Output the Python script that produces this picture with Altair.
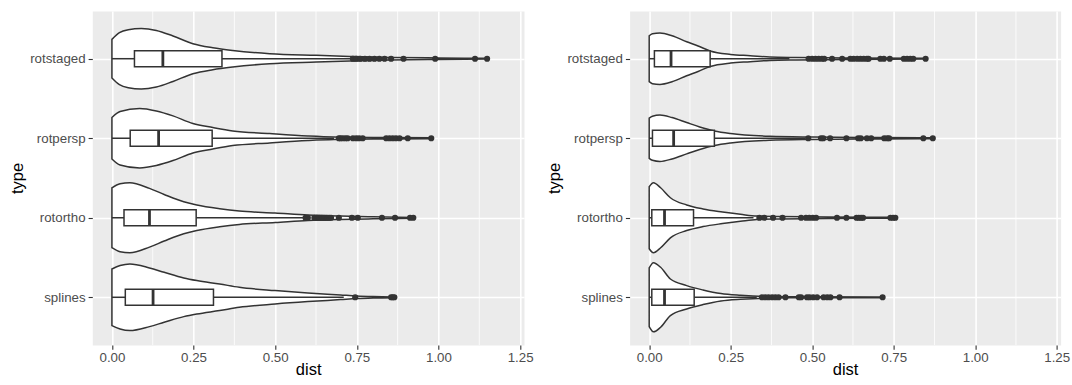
import altair as alt
import pandas as pd

# factor levels, bottom to top
categories = ["splines", "rotortho", "rotpersp", "rotstaged"]
x_ticks = [0.0, 0.25, 0.5, 0.75, 1.0, 1.25]
x_minor = [0.125, 0.375, 0.625, 0.875, 1.125]

# ---------- left panel: violin outlines (dist, half-width in category units)
L_rotstaged_d = [0, 0.023, 0.05, 0.09, 0.136, 0.187, 0.248, 0.309, 0.37, 0.483, 0.626, 0.728, 0.85, 1.0, 1.149]
L_rotstaged_w = [0.243, 0.327, 0.365, 0.381, 0.356, 0.286, 0.189, 0.138, 0.104, 0.063, 0.042, 0.029, 0.016, 0.010, 0.005]
L_rotpersp_d = [0, 0.025, 0.085, 0.136, 0.187, 0.248, 0.309, 0.37, 0.483, 0.6, 0.68, 0.85, 0.978]
L_rotpersp_w = [0.260, 0.336, 0.374, 0.343, 0.281, 0.185, 0.135, 0.092, 0.059, 0.029, 0.016, 0.009, 0.005]
L_rotortho_d = [0, 0.025, 0.055, 0.115, 0.16, 0.22, 0.26, 0.33, 0.39, 0.5, 0.6, 0.7, 0.8, 0.923]
L_rotortho_w = [0.377, 0.428, 0.440, 0.369, 0.293, 0.201, 0.160, 0.113, 0.084, 0.059, 0.034, 0.021, 0.013, 0.005]
L_splines_d = [0, 0.025, 0.055, 0.115, 0.16, 0.22, 0.26, 0.33, 0.39, 0.5, 0.6, 0.7, 0.75, 0.8, 0.865]
L_splines_w = [0.356, 0.399, 0.419, 0.369, 0.314, 0.243, 0.210, 0.167, 0.126, 0.084, 0.054, 0.029, 0.016, 0.009, 0.005]

# ---------- right panel: violin outlines
R_rotstaged_d = [0, 0.01, 0.033, 0.07, 0.115, 0.15, 0.187, 0.25, 0.31, 0.37, 0.45, 0.6, 0.848]
R_rotstaged_w = [0.289, 0.314, 0.323, 0.289, 0.214, 0.160, 0.097, 0.054, 0.038, 0.021, 0.015, 0.010, 0.005]
R_rotpersp_d = [0, 0.01, 0.033, 0.07, 0.115, 0.155, 0.2, 0.25, 0.37, 0.5, 0.7, 0.87]
R_rotpersp_w = [0.252, 0.277, 0.292, 0.260, 0.197, 0.142, 0.092, 0.059, 0.025, 0.015, 0.009, 0.005]
R_rotortho_d = [0, 0.013, 0.035, 0.065, 0.115, 0.165, 0.225, 0.28, 0.33, 0.4, 0.55, 0.755]
R_rotortho_w = [0.390, 0.440, 0.377, 0.252, 0.161, 0.111, 0.073, 0.044, 0.021, 0.015, 0.010, 0.005]
R_splines_d = [0, 0.013, 0.035, 0.065, 0.115, 0.165, 0.22, 0.28, 0.36, 0.5, 0.716]
R_splines_w = [0.369, 0.434, 0.377, 0.230, 0.147, 0.092, 0.047, 0.025, 0.010, 0.006, 0.005]

# ---------- box statistics: [whisker low, q1, median, q3, whisker high]
L_box = {
    "splines":   [0.0, 0.041, 0.126, 0.311, 0.71],
    "rotortho":  [0.0, 0.037, 0.115, 0.258, 0.585],
    "rotpersp":  [0.0, 0.056, 0.143, 0.307, 0.68],
    "rotstaged": [0.0, 0.069, 0.156, 0.337, 0.73],
}
R_box = {
    "splines":   [0.0, 0.008, 0.047, 0.138, 0.33],
    "rotortho":  [0.0, 0.008, 0.047, 0.136, 0.32],
    "rotpersp":  [0.0, 0.010, 0.075, 0.200, 0.48],
    "rotstaged": [0.0, 0.016, 0.067, 0.187, 0.43],
}

# ---------- outliers
L_out_rotstaged = [0.738, 0.748, 0.760, 0.775, 0.789, 0.804, 0.819, 0.835, 0.855, 0.893, 0.990, 1.112, 1.149]
L_out_rotpersp = [0.695, 0.700, 0.707, 0.715, 0.722, 0.738, 0.748, 0.757, 0.768, 0.840, 0.850, 0.860, 0.870, 0.881, 0.906, 0.978]
L_out_rotortho = [0.593, 0.600, 0.620, 0.626, 0.631, 0.636, 0.641, 0.646, 0.651, 0.656, 0.661, 0.666, 0.671, 0.695, 0.735, 0.753, 0.827, 0.867, 0.913, 0.923]
L_out_splines = [0.745, 0.855, 0.860, 0.865]
R_out_rotstaged = [0.489, 0.500, 0.510, 0.520, 0.530, 0.537, 0.561, 0.592, 0.617, 0.627, 0.638, 0.648, 0.658, 0.668, 0.673, 0.709, 0.720, 0.738, 0.781, 0.791, 0.801, 0.810, 0.848]
R_out_rotpersp = [0.488, 0.527, 0.534, 0.555, 0.605, 0.641, 0.649, 0.668, 0.681, 0.721, 0.730, 0.736, 0.841, 0.870]
R_out_rotortho = [0.338, 0.353, 0.380, 0.409, 0.466, 0.481, 0.491, 0.502, 0.512, 0.576, 0.605, 0.636, 0.643, 0.650, 0.656, 0.740, 0.748, 0.755]
R_out_splines = [0.346, 0.356, 0.366, 0.377, 0.387, 0.397, 0.418, 0.459, 0.466, 0.484, 0.492, 0.503, 0.515, 0.535, 0.546, 0.556, 0.584, 0.716]

LEFT = {
    "violin": {"rotstaged": (L_rotstaged_d, L_rotstaged_w), "rotpersp": (L_rotpersp_d, L_rotpersp_w),
               "rotortho": (L_rotortho_d, L_rotortho_w), "splines": (L_splines_d, L_splines_w)},
    "box": L_box,
    "out": {"rotstaged": L_out_rotstaged, "rotpersp": L_out_rotpersp,
            "rotortho": L_out_rotortho, "splines": L_out_splines},
}
RIGHT = {
    "violin": {"rotstaged": (R_rotstaged_d, R_rotstaged_w), "rotpersp": (R_rotpersp_d, R_rotpersp_w),
               "rotortho": (R_rotortho_d, R_rotortho_w), "splines": (R_splines_d, R_splines_w)},
    "box": R_box,
    "out": {"rotstaged": R_out_rotstaged, "rotpersp": R_out_rotpersp,
            "rotortho": R_out_rotortho, "splines": R_out_splines},
}

FONT = "Liberation Sans"
INK = "#333333"
BOX_HALF = 0.1
LW = 1.5


def build_frames(p):
    vrows, brows, orows = [], [], []
    for i, cat in enumerate(categories):
        pos = i + 1
        ds, ws = p["violin"][cat]
        for d, w in zip(ds, ws):
            vrows.append({"type": cat, "pos": pos, "dist": d, "hw": w})
        lo, q1, med, q3, hi = p["box"][cat]
        brows.append({"type": cat, "pos": pos, "wlo": lo, "q1": q1, "med": med, "q3": q3, "whi": hi})
        for v in p["out"][cat]:
            orows.append({"type": cat, "pos": pos, "dist": v})
    return pd.DataFrame(vrows), pd.DataFrame(brows), pd.DataFrame(orows)


xscale = alt.Scale(domain=[-0.0601, 1.262], nice=False, zero=False)
yscale = alt.Scale(domain=[0.4, 4.6], nice=False, zero=False)

label_expr = repr(categories) + "[datum.value - 1]"

xaxis = alt.Axis(values=x_ticks, format=".2f", grid=True, gridColor="white", gridWidth=1.6,
                 domain=False, tickColor=INK, tickSize=4.2, tickWidth=1.1,
                 labelFont=FONT, labelFontSize=13.3, labelColor="#4D4D4D", labelPadding=1.5,
                 titleFont=FONT, titleFontSize=16.5, titleFontWeight="normal", titleColor="black",
                 titlePadding=-3)
yaxis = alt.Axis(values=[1, 2, 3, 4], labelExpr=label_expr, grid=True, gridColor="white", gridWidth=1.6,
                 domain=False, tickColor=INK, tickSize=4.2, tickWidth=1.1,
                 labelFont=FONT, labelFontSize=13.3, labelColor="#4D4D4D", labelPadding=3,
                 titleFont=FONT, titleFontSize=16.5, titleFontWeight="normal", titleColor="black",
                 titlePadding=4)


def panel(p, width):
    vdf, bdf, odf = build_frames(p)

    minor = alt.Chart(pd.DataFrame({"m": x_minor})).mark_rule(color="white", strokeWidth=0.8).encode(
        x=alt.X("m:Q", scale=xscale, axis=xaxis, title="dist")
    )

    violin = alt.Chart(vdf).transform_calculate(
        lo="datum.pos - datum.hw", hi="datum.pos + datum.hw"
    ).mark_area(orient="vertical", interpolate="monotone", fill="white", stroke=INK, strokeWidth=LW).encode(
        x=alt.X("dist:Q", scale=xscale, title="dist"),
        y=alt.Y("lo:Q", scale=yscale, axis=yaxis, title="type", stack=None),
        y2="hi:Q",
        detail="type:N",
    )

    base_box = alt.Chart(bdf).transform_calculate(
        blo=f"datum.pos - {BOX_HALF}", bhi=f"datum.pos + {BOX_HALF}"
    )
    whisk_lo = base_box.mark_rule(color=INK, strokeWidth=LW).encode(
        x=alt.X("wlo:Q", scale=xscale, title="dist"), x2="q1:Q",
        y=alt.Y("pos:Q", scale=yscale, title="type"),
    )
    whisk_hi = base_box.mark_rule(color=INK, strokeWidth=LW).encode(
        x=alt.X("q3:Q", scale=xscale, title="dist"), x2="whi:Q",
        y=alt.Y("pos:Q", scale=yscale, title="type"),
    )
    box = base_box.mark_rect(fill="white", stroke=INK, strokeWidth=LW).encode(
        x=alt.X("q1:Q", scale=xscale, title="dist"), x2="q3:Q",
        y=alt.Y("blo:Q", scale=yscale, title="type"), y2="bhi:Q",
    )
    median = base_box.mark_rule(color=INK, strokeWidth=2.8).encode(
        x=alt.X("med:Q", scale=xscale, title="dist"),
        y=alt.Y("blo:Q", scale=yscale, title="type"), y2="bhi:Q",
    )
    outliers = alt.Chart(odf).mark_circle(size=38, color=INK, opacity=1).encode(
        x=alt.X("dist:Q", scale=xscale, title="dist"),
        y=alt.Y("pos:Q", scale=yscale, title="type"),
    )
    return alt.layer(minor, violin, whisk_lo, whisk_hi, box, median, outliers).properties(
        width=width, height=334
    )


left = panel(LEFT, 431.7)
right = panel(RIGHT, 431)

chart = alt.hconcat(left, right, spacing=105.3, bounds="flush").properties(
    autosize=alt.AutoSizeParams(type="none"),
    padding={"left": 92.3, "top": 11, "right": 1072 - 92.3, "bottom": 385 - 11},
).configure(background="white").configure_view(fill="#EBEBEB", stroke="transparent")

chart.save("out.html", embed_options={"renderer": "svg", "actions": False})
